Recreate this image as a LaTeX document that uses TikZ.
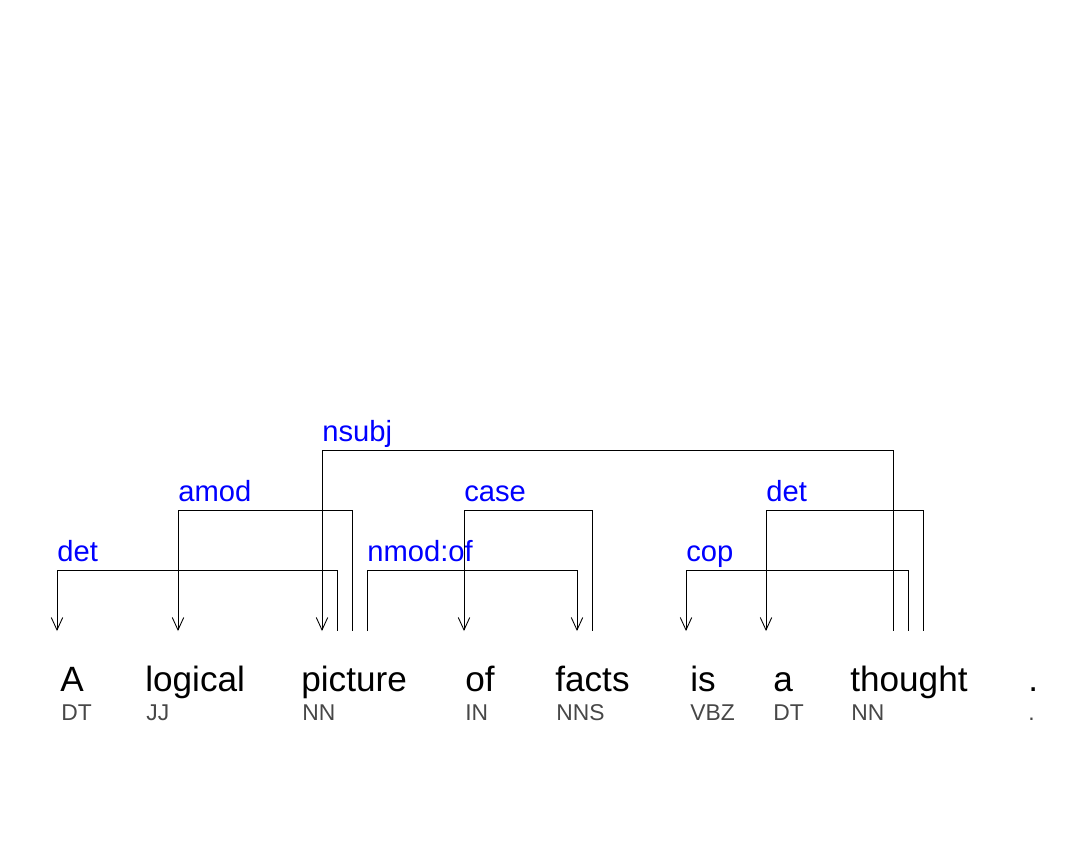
\documentclass[tikz,border=0pt]{standalone}
\usepackage{fontspec}
\setmainfont{Liberation Sans}
\usetikzlibrary{arrows.meta}
\newcommand{\deparc}[5][<-]% arrow, left foot, right foot, rise, label
{\draw[arc,#1] (#2) -- ++(0,-#4) coordinate (corner) -| (#3);
 \node[rel] at (corner) {#5};
}

\begin{document}
\begin{tikzpicture}[x=0.02cm,y=-0.02cm,
	word/.style={anchor=base west, inner sep=0pt, font=\fontsize{20}{24}\selectfont},
	tag/.style={anchor=base west, inner sep=0pt, text=black!72, font=\fontsize{13}{15}\selectfont},
	rel/.style={anchor=base west, inner sep=0pt, yshift=0.18cm, text=blue, font=\fontsize{16.6}{19}\selectfont},
	arc/.style={line width=0.5pt, >={Straight Barb[length=0.25cm,width=0.23cm]}}]
	\useasboundingbox (0,0) rectangle (1091,840);
	% words
	\node[word] (A) at (60,691){A};
	\node[word] (logical) at (145,691){logical};
	\node[word] (picture) at (301,691){picture};
	\node[word] (of) at (465,691){of};
	\node[word] (facts) at (555,691){facts};
	\node[word] (is) at (690,691){is};
	\node[word] (a) at (773,691){a};
	\node[word] (thought) at (850,691){thought};
	\node[word] (dot) at (1028,691){.};
	% tags
	\node[tag] (A-tag) at (61,720){DT};
	\node[tag] (logical-tag) at (146,720){JJ};
	\node[tag] (picture-tag) at (302,720){NN};
	\node[tag] (of-tag) at (465,720){IN};
	\node[tag] (facts-tag) at (556,720){NNS};
	\node[tag] (is-tag) at (690,720){VBZ};
	\node[tag] (a-tag) at (773,720){DT};
	\node[tag] (thought-tag) at (851,720){NN};
	\node[tag] (dot-tag) at (1028,720){.};
	% arc feet
	\coordinate (A-in) at (57,631);
	\coordinate (logical-in) at (178,631);
	\coordinate (picture-in) at (322,631);
	\coordinate (picture-det) at (337,631);
	\coordinate (picture-amod) at (352,631);
	\coordinate (picture-nmod) at (367,631);
	\coordinate (of-in) at (464,631);
	\coordinate (facts-in) at (577,631);
	\coordinate (facts-case) at (592,631);
	\coordinate (is-in) at (686,631);
	\coordinate (a-in) at (766,631);
	\coordinate (thought-nsubj) at (893,631);
	\coordinate (thought-cop) at (908,631);
	\coordinate (thought-det) at (923,631);
	% arcs
	\deparc{A-in}{picture-det}{61}{det}
	\deparc{logical-in}{picture-amod}{121}{amod}
	\deparc{picture-in}{thought-nsubj}{181}{nsubj}
	\deparc[->]{picture-nmod}{facts-in}{61}{nmod:of}
	\deparc{of-in}{facts-case}{121}{case}
	\deparc{is-in}{thought-cop}{61}{cop}
	\deparc{a-in}{thought-det}{121}{det}
\end{tikzpicture}
\end{document}
